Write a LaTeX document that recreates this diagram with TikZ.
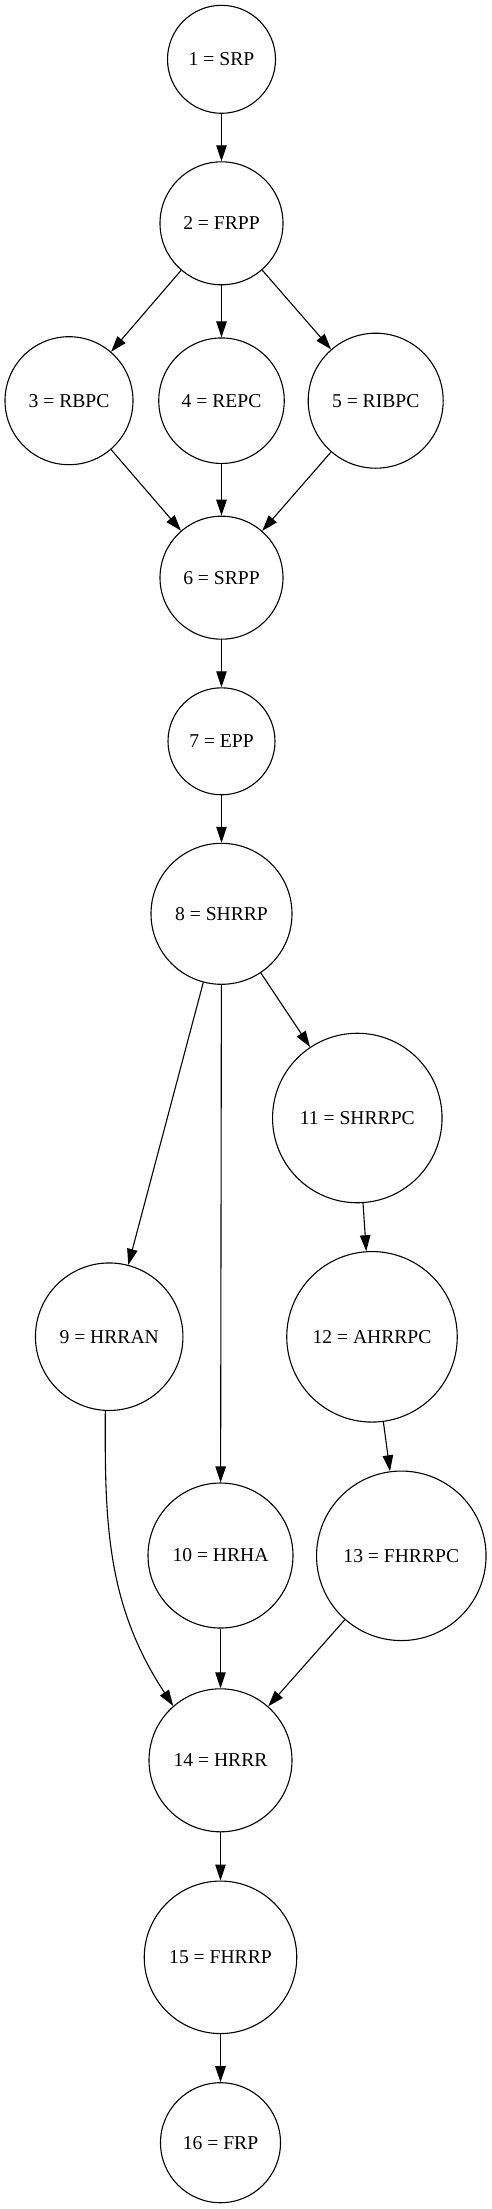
\documentclass[tikz,border=0pt]{standalone}
\usepackage{fontspec}
\setmainfont{Liberation Serif}
\usetikzlibrary{arrows.meta}
\tikzset{
  state/.style={circle, draw, line width=1.1pt, inner sep=0pt, font=\fontsize{19.6}{23}\selectfont},
  edge/.style={line width=1.1pt, -{Triangle[length=16pt,width=10.5pt]}}
}
\begin{document}
\begin{tikzpicture}[x=1pt,y=-1pt]
\useasboundingbox (0,0) rectangle (492,2209);
\node[state, minimum size=108pt] (n1) at (221.5,59.3) {1 = SRP};
\node[state, minimum size=123pt] (n2) at (221.5,223.3) {2 = FRPP};
\node[state, minimum size=128pt] (n3) at (69,400.7) {3 = RBPC};
\node[state, minimum size=125.5pt] (n4) at (221.5,400.7) {4 = REPC};
\node[state, minimum size=135pt] (n5) at (375.7,400.7) {5 = RIBPC};
\node[state, minimum size=123pt] (n6) at (221.5,577.7) {6 = SRPP};
\node[state, minimum size=107pt] (n7) at (221.5,741.3) {7 = EPP};
\node[state, minimum size=141pt] (n8) at (221.5,913.8) {8 = SHRRP};
\node[state, minimum size=147.5pt] (n9) at (109.2,1336.7) {9 = HRRAN};
\node[state, minimum size=145pt] (n10) at (220.5,1555.5) {10 = HRHA};
\node[state, minimum size=169.5pt] (n11) at (357.3,1118) {11 = SHRRPC};
\node[state, minimum size=170.5pt] (n12) at (372,1336.8) {12 = AHRRPC};
\node[state, minimum size=169.5pt] (n13) at (401.3,1555.8) {13 = FHRRPC};
\node[state, minimum size=143pt] (n14) at (220.5,1760.3) {14 = HRRR};
\node[state, minimum size=152.5pt] (n15) at (220.5,1957.3) {15 = FHRRP};
\node[state, minimum size=120pt] (n16) at (220.5,2142.7) {16 = FRP};

\draw[edge] (n1) -- (n2);
\draw[edge] (n2) -- (n3);
\draw[edge] (n2) -- (n4);
\draw[edge] (n2) -- (n5);
\draw[edge] (n3) -- (n6);
\draw[edge] (n4) -- (n6);
\draw[edge] (n5) -- (n6);
\draw[edge] (n6) -- (n7);
\draw[edge] (n7) -- (n8);
\draw[edge] (n8) -- (n9);
\draw[edge] (n8) -- (n10);
\draw[edge] (n8) -- (n11);
\draw[edge] (n11) -- (n12);
\draw[edge] (n12) -- (n13);
\draw[edge] (n9.-93) .. controls (104.7,1521.7) and (106.3,1604.3) .. (n14.131);
\draw[edge] (n10) -- (n14);
\draw[edge] (n13) -- (n14);
\draw[edge] (n14) -- (n15);
\draw[edge] (n15) -- (n16);
\end{tikzpicture}
\end{document}
